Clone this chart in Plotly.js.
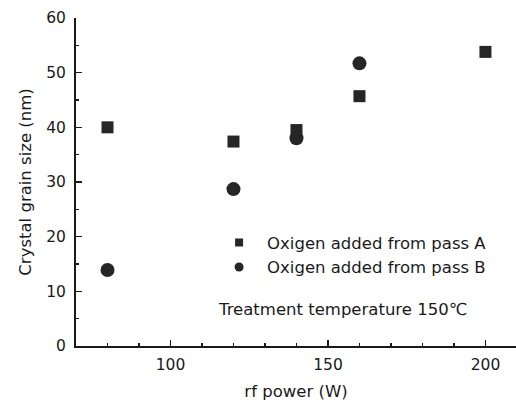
<!DOCTYPE html>
<html>
<head>
<meta charset="utf-8">
<script src="https://cdn.plot.ly/plotly-3.0.1.min.js"></script>
<style>html,body{margin:0;padding:0;background:#fff;}#chart{width:516px;height:401px;}</style>
</head>
<body>
<div id="chart"></div>
<script>
// Data
const powerA = [80, 120, 140, 160, 200];
const sizeA  = [40.0, 37.4, 39.5, 45.7, 53.8];
const powerB = [80, 120, 140, 160];
const sizeB  = [13.9, 28.7, 38.0, 51.7];
const nameA = 'Oxigen added from pass A';
const nameB = 'Oxigen added from pass B';
const noteText = 'Treatment temperature 150\u2103';
const xTitle = 'rf power (W)';
const yTitle = 'Crystal grain size (nm)';

const ink = '#1a1a1a';
const FONT = 'DejaVu Sans, sans-serif';

const traces = [
  {x: powerA, y: sizeA, mode: 'markers', type: 'scatter', name: nameA, showlegend: false,
   marker: {symbol: 'square', size: 12, color: '#262626'}},
  {x: powerB, y: sizeB, mode: 'markers', type: 'scatter', name: nameB, showlegend: false,
   marker: {symbol: 'circle', size: 14, color: '#262626'}},
  // legend entries (smaller symbols as in the reference)
  {x: [null], y: [null], mode: 'markers', type: 'scatter', name: nameA,
   marker: {symbol: 'square', size: 8, color: '#262626'}},
  {x: [null], y: [null], mode: 'markers', type: 'scatter', name: nameB,
   marker: {symbol: 'circle', size: 9, color: '#262626'}}
];

const layout = {
  width: 516, height: 401,
  margin: {l: 76, r: 0, t: 18, b: 55},
  paper_bgcolor: '#fff', plot_bgcolor: '#fff',
  font: {family: FONT, color: ink, size: 16},
  showlegend: true,
  legend: {x: 0.307, y: 0.368, xanchor: 'left', yanchor: 'top',
           bgcolor: 'rgba(0,0,0,0)', itemwidth: 46,
           font: {family: FONT, size: 16.5, color: ink}, tracegroupgap: 0},
  xaxis: {
    range: [70, 209.7], showgrid: false, zeroline: false,
    showline: true, linecolor: ink, linewidth: 2,
    ticks: 'inside', ticklen: 6, tickwidth: 1.5, tickcolor: ink,
    tickvals: [100, 150, 200], ticktext: ['100', '150', '200'],
    ticklabelstandoff: 3,
    minor: {tickvals: [80, 90, 110, 120, 130, 140, 160, 170, 180, 190, 200], ticks: 'inside', ticklen: 3, tickwidth: 1.5, tickcolor: ink},
    tickfont: {family: FONT, size: 15.5, color: ink},
    title: {text: xTitle, font: {family: FONT, size: 16.5, color: ink}, standoff: 15}
  },
  yaxis: {
    range: [0, 60], showgrid: false, zeroline: false,
    showline: true, linecolor: ink, linewidth: 2,
    ticks: 'inside', ticklen: 6, tickwidth: 1.5, tickcolor: ink,
    dtick: 10, tick0: 0,
    ticklabelstandoff: 5,
    minor: {dtick: 5, ticks: 'inside', ticklen: 3, tickwidth: 1.5, tickcolor: ink},
    tickfont: {family: FONT, size: 15.5, color: ink},
    title: {text: yTitle, font: {family: FONT, size: 16.5, color: ink}, standoff: 10}
  },
  annotations: [{
    text: noteText, xref: 'paper', yref: 'paper', x: 0.318, y: 0.11,
    xanchor: 'left', yanchor: 'middle', showarrow: false,
    font: {family: FONT, size: 16.5, color: ink}
  }]
};

Plotly.newPlot('chart', traces, layout, {displayModeBar: false, staticPlot: true});
</script>
</body>
</html>
